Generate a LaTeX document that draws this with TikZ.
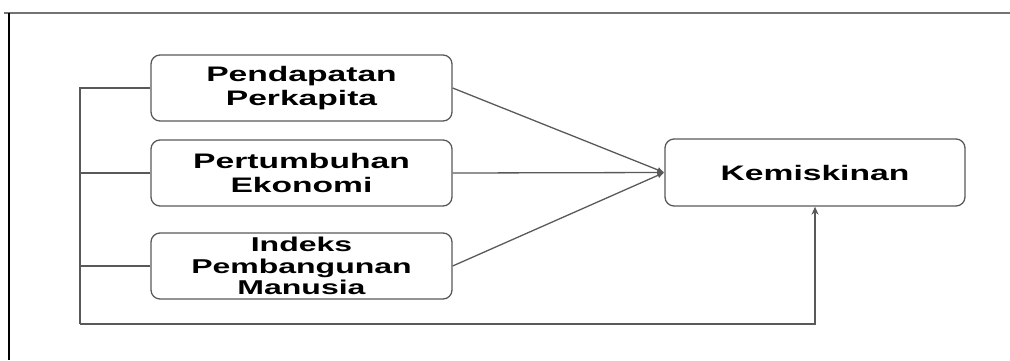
\documentclass[tikz,border=0pt]{standalone}
\usepackage{fontspec}
\setmainfont{Liberation Sans}[FakeStretch=1.6]
\usetikzlibrary{arrows.meta}
\begin{document}
\begin{tikzpicture}[x=1pt,y=-1pt,
  box/.style={draw=black!65, line width=1.3pt, rounded corners=9pt, align=center,
    minimum width=301pt, minimum height=66pt, inner sep=0pt,
    font=\bfseries\fontsize{21}{24}\selectfont},
  conn/.style={draw=black!65, line width=1.3pt},
  tipd/.style={-{Latex[length=7pt,width=6pt]}}
]
\useasboundingbox (0,0) rectangle (1010,360);
% frame
\draw[black!55, line width=1.5pt] (4,13) -- (1010,13);
\draw[black, line width=1.3pt] (9,13) -- (9,360);
% nodes
\node[box] (pp) at (301.5,88) {Pendapatan\\Perkapita};
\node[box] (pe) at (301.5,173) {Pertumbuhan\\Ekonomi};
\node[box, font=\bfseries\fontsize{20}{21.5}\selectfont] (ipm) at (301.5,266) {Indeks\\Pembangunan\\Manusia};
\node[box, minimum width=300pt, minimum height=67pt] (k) at (815,172.5) {Kemiskinan};
% connectors
\draw[conn, tipd] (pp.east) -- (k.west);
\draw[conn, tipd] (pe.east) -- (k.west);
\draw[conn, tipd] (ipm.east) -- (k.west);
\coordinate (bl) at (80,324);
\draw[conn] (pp.west) -- (pp.west -| bl) -- (bl);
\draw[conn] (pe.west) -- (pe.west -| bl);
\draw[conn] (ipm.west) -- (ipm.west -| bl);
\draw[conn, -{Stealth[length=8pt,width=7pt]}] (bl) -| (k.south);
\end{tikzpicture}
\end{document}
